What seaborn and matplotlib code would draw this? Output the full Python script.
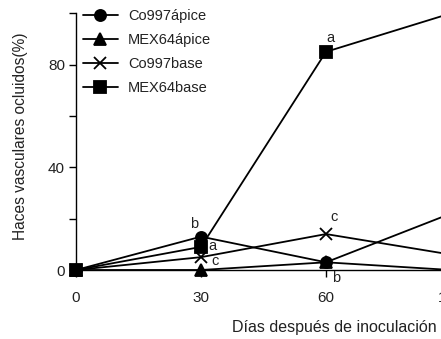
import numpy as np
import pandas as pd
from matplotlib import pyplot as plt
import seaborn as sns

# datos
dias = ["0", "30", "60", "120"]
series = ["Co997ápice", "MEX64ápice", "Co997base", "MEX64base"]
co997_apice = [0, 13, 3, 0]
mex64_apice = [0, 0, 3, 22]
co997_base = [0, 5, 14, 6]
mex64_base = [0, 9, 85, 100]
valores = [co997_apice, mex64_apice, co997_base, mex64_base]

# letras de significancia: (serie, indice dia, letra)
letras_serie = ["MEX64base", "Co997ápice", "MEX64base", "Co997base", "Co997base", "MEX64ápice"]
letras_dia = [2, 1, 1, 1, 2, 2]
letras = ["a", "b", "a", "c", "c", "b"]

sns.set_style("ticks")
plt.rcParams["font.family"] = ["Liberation Sans", "DejaVu Sans"]

pos = np.arange(len(dias))
df = pd.DataFrame({
    "pos": np.tile(pos, len(series)),
    "dia": np.tile(dias, len(series)),
    "serie": np.repeat(series, len(dias)),
    "valor": np.concatenate(valores),
})

marcadores = {"Co997ápice": "o", "MEX64ápice": "^", "Co997base": "x", "MEX64base": "s"}
orden_z = {"Co997ápice": 5, "MEX64ápice": 4, "Co997base": 3, "MEX64base": 3}

fig = plt.figure(figsize=(4.41, 3.39), dpi=100)
ax = fig.add_axes([76 / 441, 69 / 339, 375 / 441, 256.7 / 339])

for s in series:
    d = df[df["serie"] == s]
    sns.lineplot(data=d, x="pos", y="valor", ax=ax, color="black", label=s,
                 marker=marcadores[s], markersize=8, markeredgecolor="black",
                 markeredgewidth=1.3, linewidth=1.3, clip_on=False, zorder=orden_z[s])

offsets = {("MEX64base", 2): (3, 10), ("Co997ápice", 1): (-5, 9), ("MEX64base", 1): (8.5, 0.5),
           ("Co997base", 1): (10, -3), ("Co997base", 2): (6, 12.5), ("MEX64ápice", 2): (7, -11)}
for s, i, l in zip(letras_serie, letras_dia, letras):
    y = valores[series.index(s)][i]
    ax.annotate(l, (pos[i], y), xytext=offsets[(s, i)], textcoords="offset points",
                ha="center", va="center", fontsize=10.5, color="#222222")

ax.set_xlim(0, 3)
ax.set_ylim(0, 100)
ax.set_xticks(pos)
ax.set_xticklabels(dias)
ax.set_yticks([0, 20, 40, 60, 80, 100])
ax.set_yticklabels(["0", "", "40", "", "80", ""])
ax.tick_params(axis="both", direction="out", length=5, width=1, color="black",
               labelsize=11, labelcolor="#222222")
ax.tick_params(axis="x", pad=10)
ax.tick_params(axis="y", pad=3)
for sp in ["left", "bottom"]:
    ax.spines[sp].set_color("black")
    ax.spines[sp].set_linewidth(1)
sns.despine(ax=ax)

ax.set_xlabel("Días después de inoculación", fontsize=11.5, color="#222222")
ax.xaxis.set_label_coords(0.69, -0.195)
ax.set_ylabel("Haces vasculares ocluidos(%)", fontsize=11.2, color="#222222")
ax.yaxis.set_label_coords(-0.128, 0.522)

leg = ax.legend(loc="upper left", bbox_to_anchor=(0.003, 1.04), frameon=False, fontsize=10.5,
                handlelength=2.4, labelspacing=0.68, borderaxespad=0, handletextpad=0.7)
for t in leg.get_texts():
    t.set_color("#222222")

fig.savefig("out.png", dpi=100)
